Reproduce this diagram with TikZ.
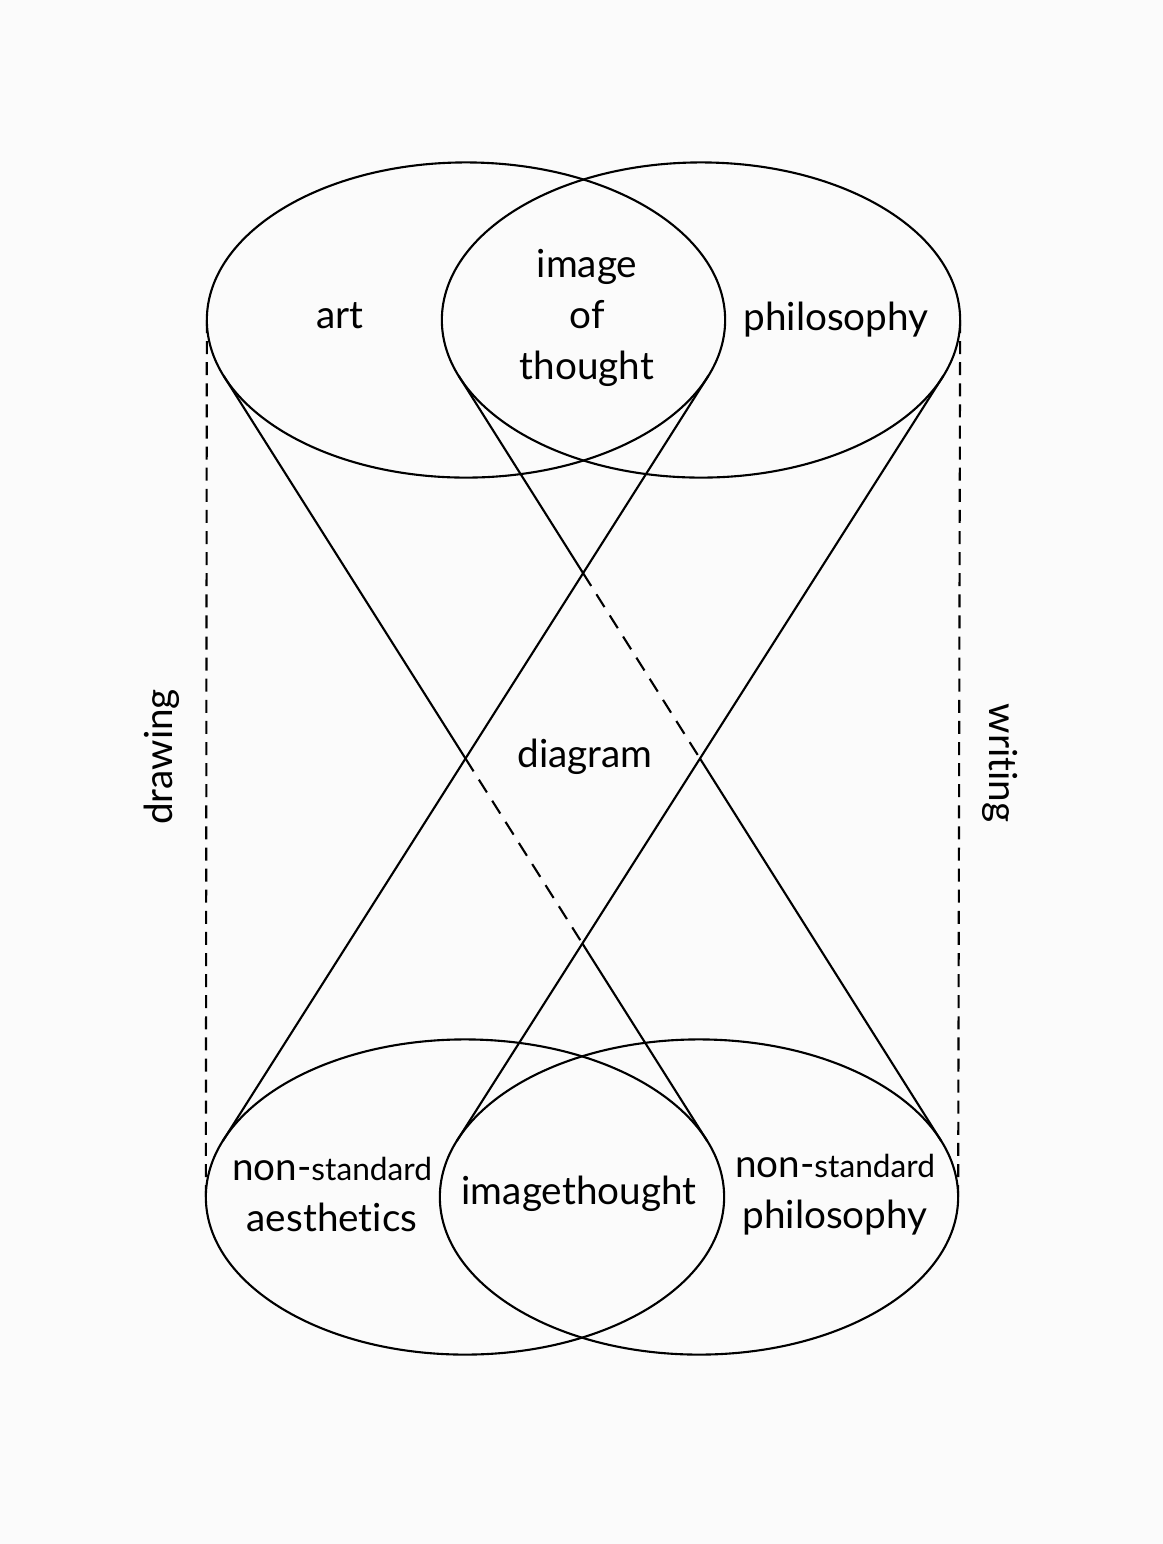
\documentclass[tikz,border=0pt]{standalone}
\usepackage{fontspec}
\setmainfont{Lato}[Ligatures=NoCommon]
\usetikzlibrary{positioning, shapes.geometric, calc}
\definecolor{paper}{RGB}{251,251,251}
\tikzset{
  ring/.style  ={draw, ellipse, minimum width=5.18cm, minimum height=3.15cm,
                 inner sep=0pt, outer sep=0pt, line width=0.6pt},
  lbl/.style   ={font=\fontsize{11}{14.5}\selectfont, align=center, inner sep=0pt},
  cone/.style  ={line width=0.6pt},
  hidden/.style={line width=0.6pt, dash pattern=on 4.3pt off 2.8pt},
  guide/.style ={line width=0.6pt, dash pattern=on 3.7pt off 2.3pt},
}
\newcommand{\nonstd}{non-{\fontsize{9}{14.5}\selectfont standard}}

\begin{document}
\begin{tikzpicture}[x=0.01cm, y=-0.01cm]
  \fill[paper] (0,0) rectangle (1163,1544);
  % the four rings
  \node[ring] (art)     at (466,320)  {};
  \node[ring] (philo)   at (701,320)  {};
  \node[ring] (aesth)   at (465,1197) {};
  \node[ring] (nsphilo) at (699,1197) {};
  % tangent points
  \coordinate (l1s) at (art.193);     \coordinate (l1e) at (aesth.13);
  \coordinate (l3s) at (art.347);     \coordinate (l3e) at (aesth.167);
  \coordinate (l2s) at (philo.193);   \coordinate (l2e) at (nsphilo.13);
  \coordinate (l4s) at (philo.347);   \coordinate (l4e) at (nsphilo.167);
  \coordinate (xl) at (intersection of l1s--l1e and l3s--l3e);
  \coordinate (xr) at (intersection of l2s--l2e and l4s--l4e);
  \coordinate (xt) at (intersection of l2s--l2e and l3s--l3e);
  \coordinate (xb) at (intersection of l1s--l1e and l4s--l4e);
  % cones
  \draw[cone]   (l1s) -- (xl);
  \draw[hidden] (xl)  -- (xb);
  \draw[cone]   (xb)  -- (l1e);
  \draw[cone]   (l2s) -- (xt);
  \draw[hidden] (xt)  -- (xr);
  \draw[cone]   (xr)  -- (l2e);
  \draw[cone]   (l3s) -- (l3e);
  \draw[cone]   (l4s) -- (l4e);
  % side guides
  \draw[guide] (art.west)   -- (aesth.west);
  \draw[guide] (philo.east) -- (nsphilo.east);
  % labels
  \node[lbl] (tArt)   at (340,316)  {art};
  \node[lbl] (tIoT)   at (587,318)  {image\\of\\thought};
  \node[lbl] (tPhilo) at (836,320)  {philosophy};
  \node[lbl] (tDiag)  at (585,757)  {diagram};
  \node[lbl] (tAes)   at (332,1194) {\nonstd\\aesthetics};
  \node[lbl] (tImTh)  at (579,1194) {imagethought};
  \node[lbl] (tNsPh)  at (835,1195) {\nonstd\\philosophy};
  \node[lbl, rotate=90]  (tDraw)  at (162,757) {drawing};
  \node[lbl, rotate=-90] (tWrite) at (1000,763) {writing};
\end{tikzpicture}
\end{document}
